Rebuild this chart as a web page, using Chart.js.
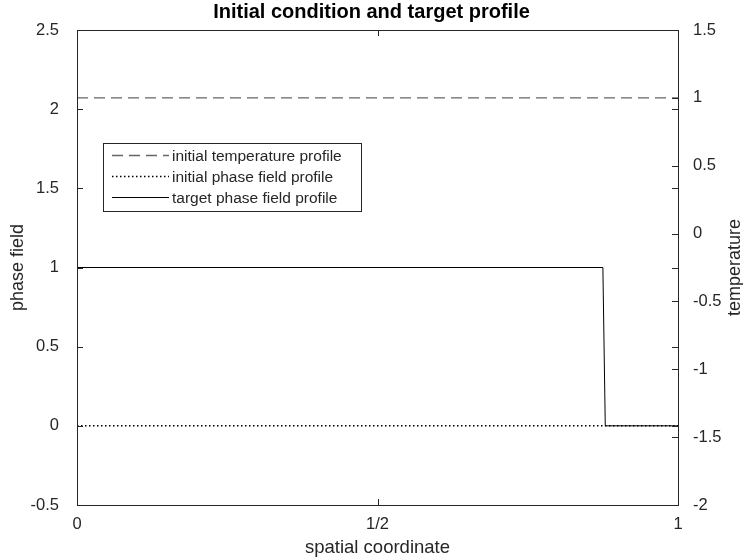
<!DOCTYPE html>
<html>
<head>
<meta charset="utf-8">
<script src="https://cdn.jsdelivr.net/npm/chart.js@4"></script>
<style>
  html, body { margin: 0; padding: 0; background: #fff; }
  #wrap { width: 743px; height: 558px; }
</style>
</head>
<body>
<div id="wrap"><canvas id="myChart" width="743" height="558"></canvas></div>
<script>
// data
const xGrid = [0, 0.875, 0.879, 1];
const targetPhase = [1, 1, 0, 0];
const initPhase = [0, 0, 0, 0];
const initTemp = [1, 1, 1, 1];
const xTickVals = [0, 0.5, 1];
const xTickLabels = ['0', '1/2', '1'];
const seriesNames = ['initial temperature profile', 'initial phase field profile', 'target phase field profile'];

const ink = '#262626';
const font = 'Liberation Sans, Arial, Helvetica, sans-serif';
const pts = ys => xGrid.map((x, i) => ({x: x, y: ys[i]}));

// matlab-ish box with inward ticks, plus the right axis label (reads upward)
const boxPlugin = {
  id: 'box',
  afterDatasetsDraw(chart) {
    const {ctx, chartArea: a, scales} = chart;
    ctx.save();
    ctx.strokeStyle = ink;
    ctx.lineWidth = 1;
    ctx.strokeRect(Math.round(a.left) + 0.5, Math.round(a.top) + 0.5,
      Math.round(a.right - a.left), Math.round(a.bottom - a.top));
    const tl = 6;
    ctx.beginPath();
    scales.y.ticks.forEach(t => {
      const py = Math.round(scales.y.getPixelForValue(t.value)) + 0.5;
      ctx.moveTo(a.left, py); ctx.lineTo(a.left + tl, py);
      ctx.moveTo(a.right, py); ctx.lineTo(a.right - tl, py);
    });
    scales.y2.ticks.forEach(t => {
      const py = Math.round(scales.y2.getPixelForValue(t.value)) + 0.5;
      ctx.moveTo(a.right, py); ctx.lineTo(a.right - tl, py);
    });
    scales.x.ticks.forEach(t => {
      const px = Math.round(scales.x.getPixelForValue(t.value)) + 0.5;
      ctx.moveTo(px, a.bottom); ctx.lineTo(px, a.bottom - tl);
      ctx.moveTo(px, a.top); ctx.lineTo(px, a.top + tl);
    });
    ctx.stroke();

    ctx.translate(735, (a.top + a.bottom) / 2);
    ctx.rotate(-Math.PI / 2);
    ctx.fillStyle = ink;
    ctx.font = '18px ' + font;
    ctx.textAlign = 'center';
    ctx.textBaseline = 'middle';
    ctx.fillText('temperature', 0, 0);
    ctx.restore();
  }
};

// legend box in upper left like the original
const legendPlugin = {
  id: 'boxLegend',
  afterDraw(chart) {
    const {ctx} = chart;
    const bx = 103, by = 143, bw = 258, bh = 68;
    ctx.save();
    ctx.fillStyle = '#fff';
    ctx.fillRect(bx, by, bw, bh);
    ctx.strokeStyle = ink;
    ctx.lineWidth = 1;
    ctx.strokeRect(bx + 0.5, by + 0.5, bw, bh);
    ctx.font = '15.5px ' + font;
    ctx.textBaseline = 'middle';
    chart.data.datasets.forEach((ds, i) => {
      const ly = by + 12.5 + i * 21;
      ctx.strokeStyle = ds.borderColor;
      ctx.lineWidth = ds.borderWidth;
      ctx.setLineDash(ds.borderDash || []);
      ctx.beginPath();
      ctx.moveTo(bx + 9, ly); ctx.lineTo(bx + 66, ly);
      ctx.stroke();
      ctx.setLineDash([]);
      ctx.fillStyle = ink;
      ctx.fillText(ds.label, bx + 69, ly + 1);
    });
    ctx.restore();
  }
};

new Chart(document.getElementById('myChart'), {
  type: 'line',
  data: {
    datasets: [{
      label: seriesNames[0],
      data: pts(initTemp),
      yAxisID: 'y2',
      borderColor: '#666666',
      borderWidth: 1.3,
      borderDash: [11, 6]
    }, {
      label: seriesNames[1],
      data: pts(initPhase),
      yAxisID: 'y',
      borderColor: '#000000',
      borderWidth: 1.5,
      borderDash: [1.5, 2.5]
    }, {
      label: seriesNames[2],
      data: pts(targetPhase),
      yAxisID: 'y',
      borderColor: '#000000',
      borderWidth: 1
    }]
  },
  options: {
    responsive: false,
    animation: false,
    events: [],
    elements: { point: { radius: 0 }, line: { tension: 0 } },
    layout: { padding: 0 },
    plugins: {
      legend: { display: false },
      tooltip: { enabled: false },
      title: {
        display: true,
        text: 'Initial condition and target profile',
        color: '#000',
        font: { family: font, size: 20, weight: 'bold', lineHeight: 1 },
        padding: { top: 2, bottom: 8 }
      }
    },
    scales: {
      x: {
        type: 'linear',
        min: 0, max: 1,
        grid: { display: false },
        border: { display: false },
        afterFit: s => { s.height = 53; },
        afterBuildTicks: s => { s.ticks = xTickVals.map(v => ({value: v})); },
        ticks: {
          padding: 2,
          color: ink,
          maxRotation: 0,
          font: { family: font, size: 16.5 },
          callback: v => xTickLabels[xTickVals.indexOf(v)]
        },
        title: {
          display: true,
          text: 'spatial coordinate',
          color: ink,
          font: { family: font, size: 18.5, lineHeight: 1 },
          padding: { top: 0, bottom: 1 }
        }
      },
      y: {
        position: 'left',
        min: -0.5, max: 2.5,
        grid: { display: false },
        border: { display: false },
        afterFit: s => { s.width = 77; },
        ticks: { stepSize: 0.5, padding: 10, color: ink, font: { family: font, size: 16.5 }, callback: v => String(v) },
        title: {
          display: true,
          text: 'phase field',
          color: ink,
          font: { family: font, size: 18, lineHeight: 1 },
          padding: { top: 9, bottom: 0 }
        }
      },
      y2: {
        position: 'right',
        min: -2, max: 1.5,
        grid: { display: false },
        border: { display: false },
        afterFit: s => { s.width = 65; },
        ticks: { stepSize: 0.5, padding: 7, color: ink, font: { family: font, size: 16.5 }, callback: v => String(v) },
        title: { display: false }
      }
    }
  },
  plugins: [boxPlugin, legendPlugin]
});
</script>
</body>
</html>
